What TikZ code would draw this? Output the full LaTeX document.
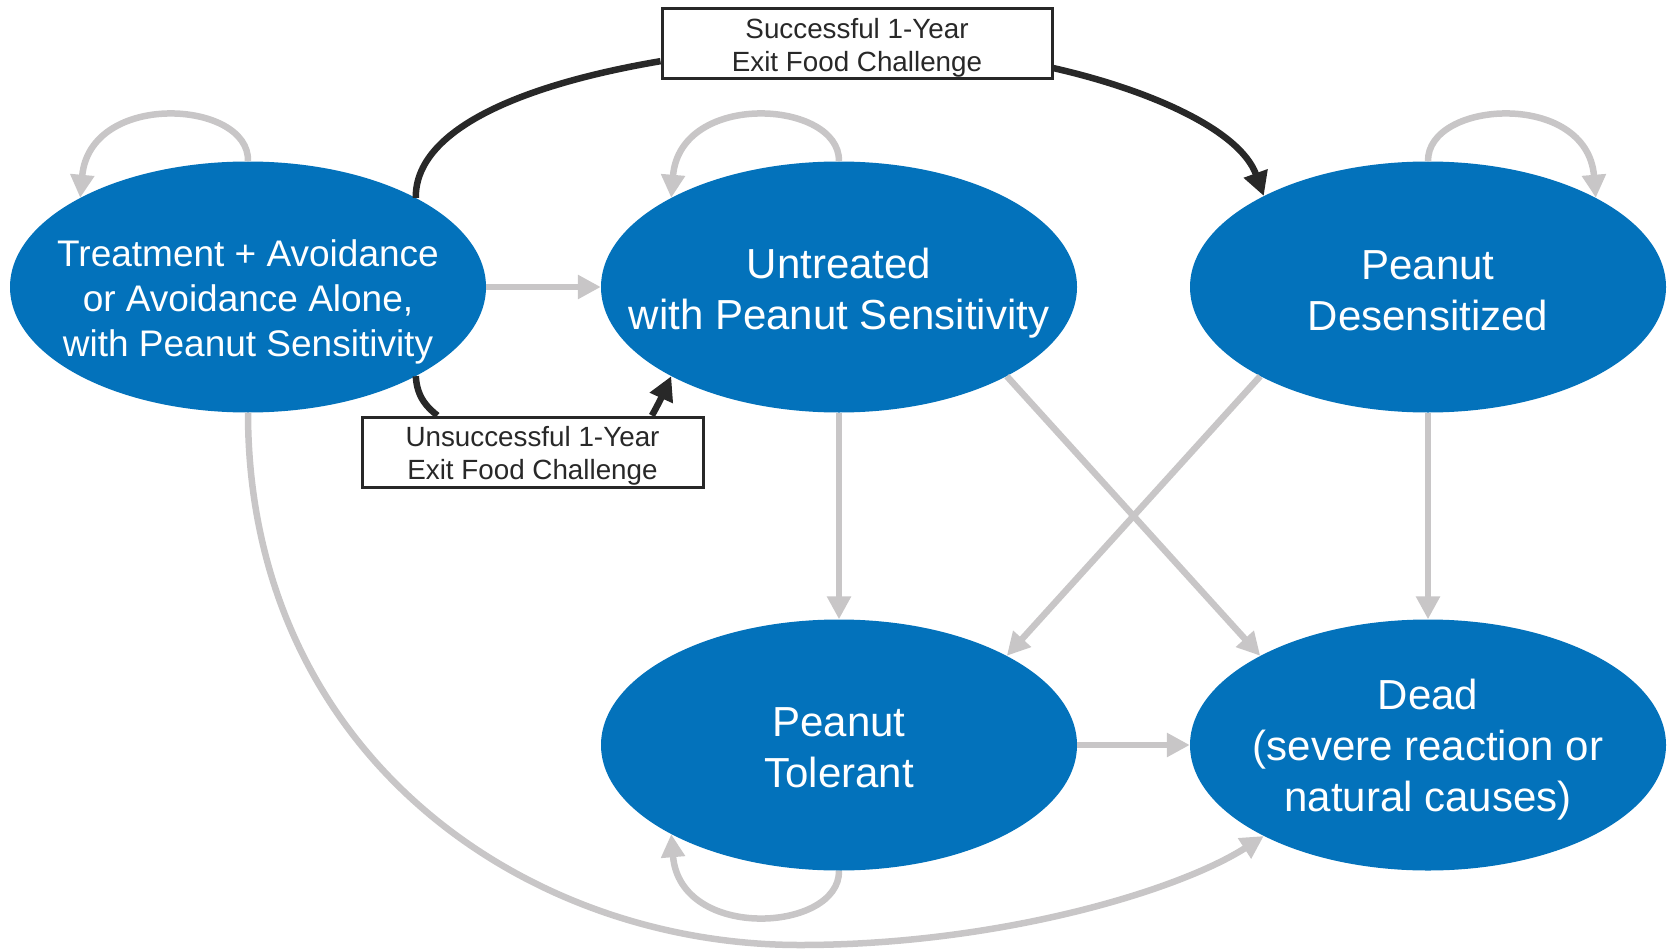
\documentclass[tikz,border=0pt]{standalone}
\usepackage{fontspec}
\setmainfont{Liberation Sans}
\usetikzlibrary{shapes.geometric,arrows.meta,calc}

\definecolor{stateblue}{RGB}{3,114,187}
\definecolor{flowgray}{RGB}{200,198,199}
\definecolor{inkdark}{RGB}{40,40,40}

\begin{document}
\begin{tikzpicture}[x=1pt,y=-1pt,
  state/.style={ellipse,fill=stateblue,draw=none,minimum width=476pt,minimum height=251pt,inner sep=0pt},
  statetext/.style={text=white,align=center,inner sep=0pt,font=\fontsize{42}{51}\selectfont},
  labelbox/.style={draw=inkdark,line width=3pt,fill=white,align=center,text=inkdark,inner sep=0pt,
    minimum height=70pt,font=\fontsize{27.8}{32.5}\selectfont},
  boxtext/.style={align=center,text=inkdark,inner sep=0pt,font=\fontsize{27.8}{32.5}\selectfont},
  flow/.style={draw=flowgray,line width=6.5pt,-{Triangle[length=23pt,width=23pt]}},
  exitflow/.style={draw=inkdark,line width=6.5pt,-{Triangle[length=24pt,width=24pt]}},
  exitline/.style={draw=inkdark,line width=6.5pt},
]
\useasboundingbox (0,0) rectangle (1675,952);

% health states
\node[state] (A) at (248,287) {};
\node[state] (B) at (839,287) {};
\node[state] (C) at (1428,287) {};
\node[state] (D) at (839,745) {};
\node[state] (E) at (1428,745) {};

\node[statetext,font=\fontsize{37}{45}\selectfont] (At) at ($(A.center)+(0,15)$)
  {Treatment + Avoidance\\or Avoidance Alone,\\with Peanut Sensitivity};
\node[statetext] (Bt) at ($(B.center)+(0,6)$) {Untreated\\with Peanut Sensitivity};
\node[statetext] (Ct) at ($(C.center)+(0,4)$) {Peanut\\Desensitized};
\node[statetext] (Dt) at ($(D.center)+(0,3)$) {Peanut\\Tolerant};
\node[statetext] (Et) at ($(E.center)+(0,5)$) {Dead\\(severe reaction or\\natural causes)};

% food challenge outcomes
\node[labelbox,minimum width=390pt] (S1) at (857,44) {};
\node[boxtext] (S1t) at ($(S1.center)+(0,4)$) {Successful 1-Year\\Exit Food Challenge};
\node[labelbox,minimum width=341pt] (S2) at (532.5,452) {};
\node[boxtext] (S2t) at ($(S2.center)+(0,4)$) {Unsuccessful 1-Year\\Exit Food Challenge};

% transitions between states
\draw[flow] (A.east) -- (B.west);
\draw[flow] (B.south) -- (D.north);
\draw[flow] (C.south) -- (E.north);
\draw[flow] (D.east) -- (E.west);
\draw[flow] (B.-28) -- (E.152);
\draw[flow] (C.-152) -- (D.28);

% remaining in the same state
\draw[flow] (A.north) .. controls (250,100) and (90,90) .. (A.152);
\draw[flow] (B.north) .. controls (840,100) and (680,90) .. (B.152);
\draw[flow] (C.north) .. controls (1427,100) and (1587,90) .. (C.28);
\draw[flow] (D.south) .. controls (840,932) and (680,942) .. (D.-152);

% death from the treatment state
\coordinate (lowbend) at (800,945);
\draw[flow] (A.south) .. controls (248,750) and (520,945) .. (lowbend)
  .. controls (1000,945) and (1180,890) .. (E.-151);

% exit food challenge paths
\draw[exitline] (A.28) .. controls (415,130) and (520,85) .. (S1.185);
\draw[exitflow] (S1.-7) .. controls (1150,90) and (1240,130) .. (C.151);
\draw[exitline] (A.-28) .. controls (417,398) and (428,408) .. (S2.159);
\draw[exitflow] (S2.17) .. controls (658,405) and (664,392) .. (B.-152);
\end{tikzpicture}
\end{document}
